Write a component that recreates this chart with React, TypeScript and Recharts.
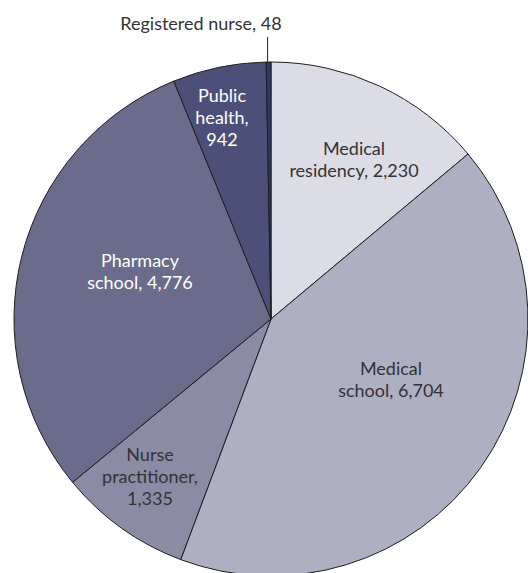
import { Cell, Pie, PieChart } from "recharts";

const categories = [
	"Medical residency",
	"Medical school",
	"Nurse practitioner",
	"Pharmacy school",
	"Public health",
	"Registered nurse",
];
const counts = [2230, 6704, 1335, 4776, 942, 48];
const labelLines = [
	["Medical", "residency, 2,230"],
	["Medical", "school, 6,704"],
	["Nurse", "practitioner,", "1,335"],
	["Pharmacy", "school, 4,776"],
	["Public", "health,", "942"],
	["Registered nurse, 48"],
];

const fills = ["#dcdce6", "#afafc3", "#8b8ba5", "#6b6b8b", "#4c5078", "#2c3a6a"];
const textColors = ["#333333", "#333333", "#333333", "#ffffff", "#ffffff", "#333333"];
// label centre, offset from the pie centre
const labelOffsets: [number, number][] = [
	[83, -160],
	[120, 60],
	[-121, 157],
	[-131, -48],
	[-49, -202],
	[-70, -296],
];

const data = categories.map((name, i) => ({ name, value: counts[i] }));
const RADIAN = Math.PI / 180;
const LINE_H = 22;

function renderLabel(props: any) {
	const { cx, cy, midAngle, outerRadius, index } = props;
	const lines = labelLines[index];
	const [dx, dy] = labelOffsets[index];
	const x = cx + dx;
	const yMid = cy + dy;
	const y0 = yMid - ((lines.length - 1) * LINE_H) / 2;
	const isOutside = index === 5;
	let leader = null;
	if (isOutside) {
		const ex = cx + outerRadius * Math.cos(-midAngle * RADIAN);
		const ey = cy + outerRadius * Math.sin(-midAngle * RADIAN);
		leader = <line x1={ex - 1} y1={ey} x2={ex - 1} y2={yMid + 14} stroke="#222" strokeWidth={1} />;
	}
	return (
		<g key={`lbl-${index}`}>
			{leader}
			<text
				x={x}
				y={y0}
				fill={textColors[index]}
				textAnchor="middle"
				dominantBaseline="central"
				style={{ fontFamily: "Lato, 'Open Sans', sans-serif", fontSize: 18 }}
			>
				{lines.map((ln, i) => (
					<tspan key={i} x={x} y={y0 + i * LINE_H}>
						{ln}
					</tspan>
				))}
			</text>
		</g>
	);
}

export default function App() {
	return (
		<div style={{ position: "absolute", left: 0, top: 0, width: 528, height: 573, background: "#fff" }}>
			<PieChart width={528} height={573} margin={{ top: 0, right: 0, bottom: 0, left: 0 }}>
				<Pie
					data={data}
					dataKey="value"
					nameKey="name"
					cx={271}
					cy={319}
					outerRadius={257}
					startAngle={90}
					endAngle={-270}
					stroke="#1e1e1e"
					strokeWidth={1}
					label={renderLabel}
					labelLine={false}
					isAnimationActive={false}
				>
					{data.map((d, i) => (
						<Cell key={d.name} fill={fills[i]} />
					))}
				</Pie>
			</PieChart>
		</div>
	);
}
